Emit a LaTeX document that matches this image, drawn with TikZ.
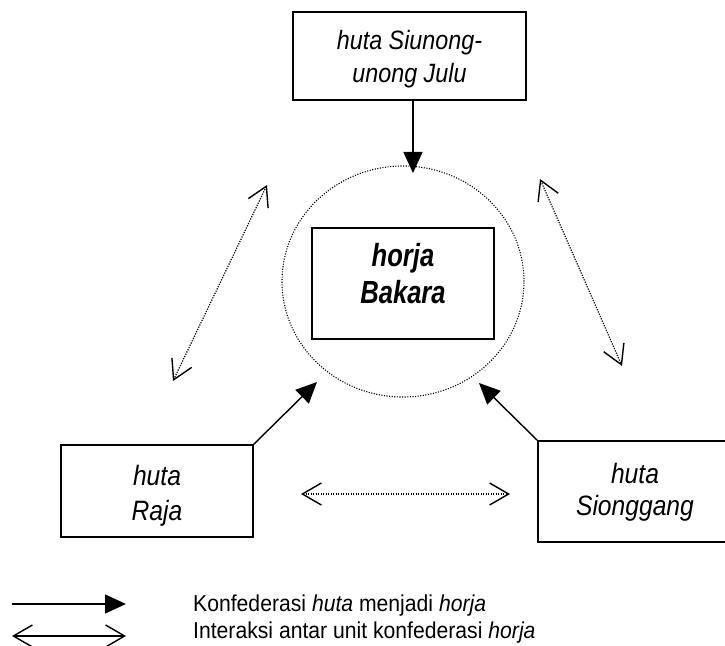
\documentclass[tikz,border=0pt]{standalone}
\usepackage{fontspec}
\setmainfont{Liberation Sans}
\newfontfamily\narrowsans[FakeStretch=0.8]{Liberation Sans}
\newfontfamily\condsans[FakeStretch=0.88]{Liberation Sans}
\newfontfamily\legendsans[FakeStretch=0.92]{Liberation Sans}
\usetikzlibrary{arrows.meta,shapes.geometric}

% two centred lines in a \vtop, so the baseline is that of the first line
\newcommand\twoline[2]{\vtop{\halign{\hfil##\hfil\cr#1\cr#2\cr}}}

\tikzset{
  box/.style={draw, rectangle, line width=1.3bp, inner sep=0pt},
  link/.style={line width=1.4bp, -{Triangle[length=21bp,width=19bp]}},
  barb/.tip={Straight Barb[length=19bp,width=22bp,line width=1.4bp]},
  tie/.style={line width=1.2bp, dash pattern=on 1.2bp off 1.3bp, barb-barb},
  ring/.style={ellipse, draw, line width=1.1bp, dash pattern=on 1.1bp off 1.5bp},
  legendtext/.style={anchor=base west, inner sep=0pt, font=\fontsize{23bp}{27bp}\selectfont\legendsans},
}

\begin{document}
\begin{tikzpicture}[x=1bp, y=-1bp]
\useasboundingbox (0,0) rectangle (725,646);
\clip (0,0) rectangle (725,646);

% the horja with its surrounding ring
\node[ring, minimum width=242bp, minimum height=231bp] (ring) at (403,281.5) {};
\node[box, minimum width=182bp, text height=38bp, text depth=73bp,
      font=\fontsize{32bp}{37bp}\selectfont\narrowsans\bfseries\itshape]
  (bakara) at (403,283.5) {\twoline{horja}{Bakara}};

% the three huta
\node[box, minimum width=233bp, text height=38bp, text depth=50bp,
      font=\fontsize{26.5bp}{33bp}\selectfont\condsans\itshape]
  (julu) at (409.5,56) {\twoline{huta Siunong-}{unong Julu}};
\node[box, minimum width=192bp, text height=40bp, text depth=52bp,
      font=\fontsize{28bp}{35bp}\selectfont\condsans\itshape]
  (raja) at (157,491) {\twoline{huta}{Raja}};
\node[box, minimum width=194bp, text height=42bp, text depth=59bp,
      font=\fontsize{28bp}{32bp}\selectfont\condsans\itshape]
  (sionggang) at (635,491.5) {\twoline{huta}{Sionggang}};

% arrow tips towards the ring
\coordinate (juluTip) at (413,173);
\coordinate (rajaTip) at (317,382);
\coordinate (sionggangTip) at (479,383);

\draw[link] (juluTip |- julu.south) -- (juluTip);
\draw[link] (raja.north east) -- (rajaTip);
\draw[link] (sionggang.north west) -- (sionggangTip);

% interaction between the huta
\coordinate (leftA) at (267,185);
\coordinate (leftB) at (173,381);
\coordinate (rightA) at (540,179);
\coordinate (rightB) at (622,366);
\coordinate (lowA) at (301,494);
\coordinate (lowB) at (510,494);

\draw[tie] (leftA) -- (leftB);
\draw[tie] (rightA) -- (rightB);
\draw[tie] (lowA) -- (lowB);

% legend
\coordinate (keyOneA) at (12,604);
\coordinate (keyOneB) at (126,604);
\coordinate (keyTwoA) at (12,636);
\coordinate (keyTwoB) at (126,636);
\draw[link] (keyOneA) -- (keyOneB);
\draw[line width=1.4bp, barb-barb] (keyTwoA) -- (keyTwoB);
\node[legendtext] (keyOneText) at (193,611) {Konfederasi \textit{huta} menjadi \textit{horja}};
\node[legendtext] (keyTwoText) at (193,638) {Interaksi antar unit konfederasi \textit{horja}};
\end{tikzpicture}
\end{document}
